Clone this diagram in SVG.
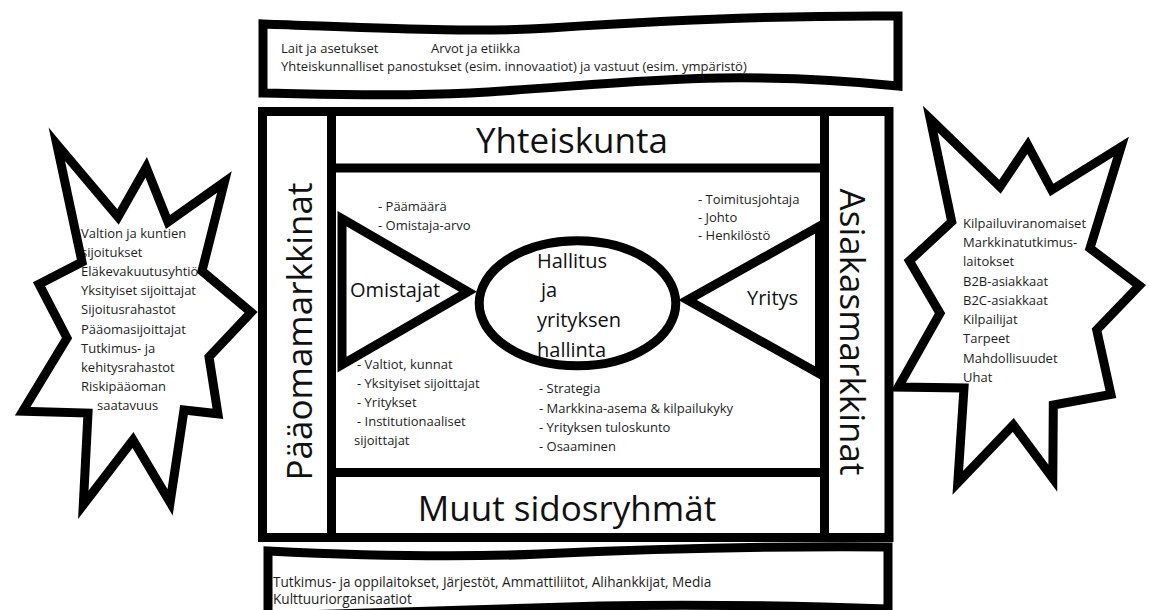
<svg xmlns="http://www.w3.org/2000/svg" xmlns:xlink="http://www.w3.org/1999/xlink" width="1149" height="610" viewBox="0 0 1149 610">
<style>
  .ln { fill: none; stroke: #000; stroke-width: 9; stroke-linejoin: miter; stroke-miterlimit: 10; }
  .wf { fill: #fff; stroke: #000; stroke-width: 9; stroke-linejoin: miter; stroke-miterlimit: 10; }
  .fillw { fill: #fff; stroke: none; }
  .sm { font-family: "Open Sans", "Noto Sans", "Liberation Sans", sans-serif; font-size: 13px; fill: #1e1e1e; }
  .bb { font-family: "Open Sans", "Noto Sans", "Liberation Sans", sans-serif; font-size: 13.6px; fill: #1e1e1e; }
  .md { font-family: "Open Sans", "Noto Sans", "Liberation Sans", sans-serif; font-size: 20px; fill: #111; }
  .lg { font-family: "Open Sans", "Noto Sans", "Liberation Sans", sans-serif; font-size: 35px; fill: #111; }
</style>
<defs>
  <path id="starL" d="M56.8,144.3 L118,217 L146.2,167.4 L168,222 L224.4,182 L202,271 L251.1,312.3 L209,357 L217.9,413.8 L184,410 L170.1,502.4 L133,440 L83.3,504.8 L88,413 L22.7,411.2 L67,338 L39,284.2 L82,262 Z"/>
  <path id="starR" d="M930.3,119.1 L1000,186.7 L1027.8,145.3 L1051.7,190 L1121.1,146.8 L1090,248.3 L1139.3,285.6 L1096.7,330 L1110.9,394.4 L1053.3,405 L1052.8,478.2 L1013.3,425 L957.8,482.8 L964,388 L898.3,387 L940,313.3 L909.4,260.9 L951.7,221.7 Z"/>
</defs>
<rect width="1149" height="610" fill="#fff"/>

<g id="top-banner">
  <path class="wf" stroke-width="10" d="M263,24 C380,28 470,33 550,28 C640,22 760,15 898,16 L898,86 C840,80 790,77 720,78 C640,79 560,88 470,93 C390,97 320,94 263,93 Z"/>
  <text class="sm" x="281" y="53">Lait ja asetukset</text>
  <text class="sm" x="431" y="53">Arvot ja etiikka</text>
  <text class="sm" x="281" y="71">Yhteiskunnalliset panostukset (esim. innovaatiot) ja vastuut (esim. ympäristö)</text>
</g>

<g id="left-star">
  <use xlink:href="#starL" class="fillw"/>
  <text class="sm" x="81" y="238">Valtion ja kuntien</text>
  <text class="sm" x="81" y="257">sijoitukset</text>
  <text class="sm" x="81" y="276">Eläkevakuutusyhtiö</text>
  <text class="sm" x="81" y="295">Yksityiset sijoittajat</text>
  <text class="sm" x="81" y="314">Sijoitusrahastot</text>
  <text class="sm" x="81" y="333.5">Pääomasijoittajat</text>
  <text class="sm" x="81" y="352.5">Tutkimus- ja</text>
  <text class="sm" x="81" y="371.5">kehitysrahastot</text>
  <text class="sm" x="81" y="390.5">Riskipääoman</text>
  <text class="sm" x="97" y="409.5">saatavuus</text>
  <use xlink:href="#starL" class="ln"/>
</g>

<g id="right-star">
  <use xlink:href="#starR" class="fillw"/>
  <text class="sm" x="963" y="228">Kilpailuviranomaiset</text>
  <text class="sm" x="963" y="247">Markkinatutkimus-</text>
  <text class="sm" x="963" y="266">laitokset</text>
  <text class="sm" x="963" y="285.5">B2B-asiakkaat</text>
  <text class="sm" x="963" y="305">B2C-asiakkaat</text>
  <text class="sm" x="963" y="324">Kilpailijat</text>
  <text class="sm" x="963" y="343">Tarpeet</text>
  <text class="sm" x="963" y="362.5">Mahdollisuudet</text>
  <text class="sm" x="963" y="381.5">Uhat</text>
  <use xlink:href="#starR" class="ln"/>
</g>

<g id="frame">
  <rect class="wf" x="262.5" y="111.5" width="626.5" height="426"/>
</g>

<g id="paaomamarkkinat">
  <line class="ln" x1="331.5" y1="111.5" x2="331.5" y2="537.5"/>
  <text class="lg" text-anchor="middle" transform="translate(312,331.5) rotate(-90)">Pääomamarkkinat</text>
</g>

<g id="asiakasmarkkinat">
  <line class="ln" x1="824.5" y1="111.5" x2="824.5" y2="537.5"/>
  <text class="lg" text-anchor="middle" transform="translate(840,332) rotate(90)">Asiakasmarkkinat</text>
</g>

<g id="yhteiskunta">
  <line class="ln" x1="331" y1="168" x2="825" y2="168"/>
  <text class="lg" x="572" y="153" text-anchor="middle">Yhteiskunta</text>
</g>

<g id="muut-sidosryhmat">
  <line class="ln" x1="331" y1="472.5" x2="825" y2="472.5"/>
  <text class="lg" x="567" y="521" text-anchor="middle">Muut sidosryhmät</text>
</g>

<g id="omistajat">
  <polygon class="ln" points="342,218.7 468,291.7 342,364.7"/>
  <text class="md" x="350" y="297">Omistajat</text>
  <text class="sm" x="378" y="211">- Päämäärä</text>
  <text class="sm" x="378" y="229.5">- Omistaja-arvo</text>
  <text class="sm" x="357" y="368.5">- Valtiot, kunnat</text>
  <text class="sm" x="357" y="388">- Yksityiset sijoittajat</text>
  <text class="sm" x="357" y="407">- Yritykset</text>
  <text class="sm" x="357" y="426">- Institutionaaliset</text>
  <text class="sm" x="354" y="445">sijoittajat</text>
</g>

<g id="yritys">
  <polygon class="ln" points="819.5,226.1 687.5,300 819.5,373.9"/>
  <text class="md" x="747" y="305">Yritys</text>
  <text class="sm" x="698" y="204">- Toimitusjohtaja</text>
  <text class="sm" x="698" y="222">- Johto</text>
  <text class="sm" x="698" y="240">- Henkilöstö</text>
</g>

<g id="hallitus">
  <ellipse class="wf" stroke-width="8.5" cx="577.5" cy="303.3" rx="98.3" ry="62.5"/>
  <text class="md" x="537" y="268">Hallitus</text>
  <text class="md" x="541" y="297">ja</text>
  <text class="md" x="537" y="327">yrityksen</text>
  <text class="md" x="537" y="357">hallinta</text>
  <text class="sm" x="539" y="393">- Strategia</text>
  <text class="sm" x="539" y="412.5">- Markkina-asema &amp; kilpailukyky</text>
  <text class="sm" x="539" y="431.5">- Yrityksen tuloskunto</text>
  <text class="sm" x="539" y="451">- Osaaminen</text>
</g>

<g id="bottom-banner">
  <path class="wf" d="M268,551 C350,555 450,558 540,554 C650,549 770,546 888,547 L888,609 C800,606 700,604 600,606 C500,608 400,613 268,616 Z"/>
  <text class="bb" x="273" y="587">Tutkimus- ja oppilaitokset, Järjestöt, Ammattiliitot, Alihankkijat, Media</text>
  <text class="bb" x="273" y="604">Kulttuuriorganisaatiot</text>
</g>

<g id="connectors"></g>
</svg>
